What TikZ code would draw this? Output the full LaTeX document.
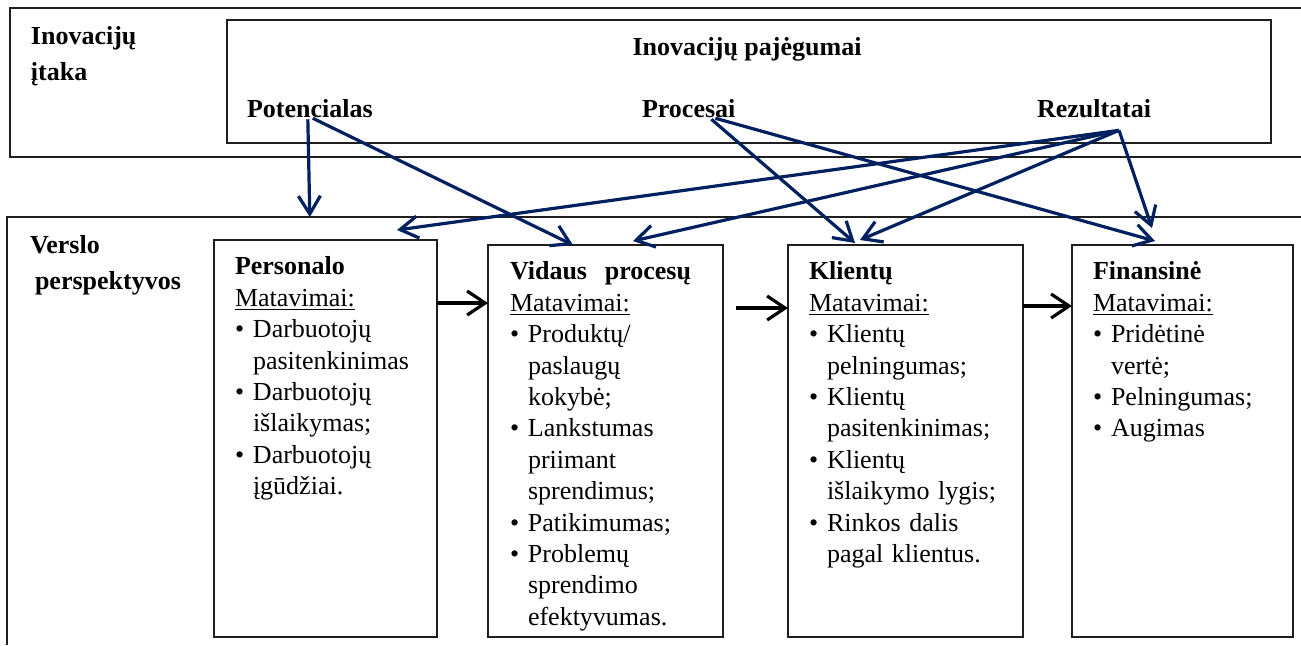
\documentclass[tikz,border=0pt]{standalone}
\usepackage{fontspec}
\setmainfont{Liberation Serif}
\usetikzlibrary{arrows.meta,calc}
\setlength{\parindent}{0pt}
\definecolor{KpiFrame}{gray}{0.12}
\definecolor{KpiNavy}{RGB}{0,32,96}
\newcommand{\kpiitem}[1]{\par\hangindent=9pt\hangafter=1\noindent\makebox[9pt][l]{\textbullet}#1}
\tikzset{
    kpi/diagram/.style={
        x=0.5pt, y=-0.5pt,
        font=\fontsize{13}{15.7}\selectfont,
        line join=miter,
        every node/.style={inner sep=0pt, outer sep=0pt}
    },
    kpi/frame/.style={draw=KpiFrame, line width=0.85pt},
    kpi/panel/.style={draw=KpiFrame, line width=0.65pt},
    kpi/box/.style={draw=KpiFrame, line width=0.65pt, anchor=north west},
    kpi/text/.style={align=left, anchor=north west, text width=#1},
    kpi/label/.style={font=\fontsize{13}{18}\selectfont\bfseries, align=left, anchor=north west},
    kpi/heading/.style={font=\fontsize{13}{15.7}\selectfont\bfseries, anchor=base west},
    kpi/flow/.style={
        draw=black, line width=1.6pt,
        -{Straight Barb[length=9pt, width=12pt]}
    },
    kpi/link/.style={
        draw=KpiNavy, line width=1.6pt,
        -{Straight Barb[length=9pt, width=11pt]}
    }
}

\begin{document}
\begin{tikzpicture}[kpi/diagram]
    \useasboundingbox (0,0) rectangle (1301,645);

    % Upper band: innovation influence.
    \draw[kpi/frame] (1301,8) -- (10,8) -- (10,157) -- (1301,157);
    \node[kpi/label] (itaka) at (31,19) {\strut Inovacijų\\įtaka};
    \draw[kpi/panel] (227,20) rectangle (1271,143);
    \node[kpi/heading, anchor=base] (pajeg) at (747,55) {Inovacijų pajėgumai};
    \node[kpi/heading] (pot) at (247,117) {Potencialas};
    \node[kpi/heading] (proc) at (642,117) {Procesai};
    \node[kpi/heading] (rez) at (1037,117) {Rezultatai};

    % Lower band: business perspectives.
    \draw[kpi/frame] (1301,217) -- (7,217) -- (7,645);
    \coordinate (verslo-top) at (7,217);
    \node[kpi/label] (verslo) at (30,228) {\strut Verslo\\\hspace{2.5pt}perspektyvos};

    \node[kpi/box, minimum width=111.5pt, minimum height=198.5pt] (pers) at (214,240) {};
    \node[kpi/box, minimum width=117.5pt, minimum height=196pt] (vid) at (488,245) {};
    \node[kpi/box, minimum width=117.5pt, minimum height=196pt] (kli) at (788,245) {};
    \node[kpi/box, minimum width=110.5pt, minimum height=196pt] (fin) at (1072,245) {};

    \node[kpi/text=100pt] (pers-txt) at (235,253) {\strut\textbf{Personalo}\par
        \underline{Matavimai:}
        \kpiitem{Darbuotojų\newline pasitenkinimas}
        \kpiitem{Darbuotojų\newline išlaikymas;}
        \kpiitem{Darbuotojų\newline įgūdžiai.}\par};
    \node[kpi/text=106pt] (vid-txt) at (510,258) {\strut\textbf{Vidaus\hspace{0.35em} procesų}\par
        \underline{Matavimai:}
        \kpiitem{Produktų/\newline paslaugų\newline kokybė;}
        \kpiitem{Lankstumas\newline priimant\newline sprendimus;}
        \kpiitem{Patikimumas;}
        \kpiitem{Problemų\newline sprendimo\newline efektyvumas.}\par};
    \node[kpi/text=105pt] (kli-txt) at (809,258) {\strut\textbf{Klientų}\par
        \underline{Matavimai:}
        \kpiitem{Klientų\newline pelningumas;}
        \kpiitem{Klientų\newline pasitenkinimas;}
        \kpiitem{Klientų\newline išlaikymo lygis;}
        \kpiitem{Rinkos dalis\newline pagal klientus.}\par};
    \node[kpi/text=98pt] (fin-txt) at (1093,258) {\strut\textbf{Finansinė}\par
        \underline{Matavimai:}
        \kpiitem{Pridėtinė\newline vertė;}
        \kpiitem{Pelningumas;}
        \kpiitem{Augimas}\par};

    % Chain of perspectives.
    \draw[kpi/flow] ($(pers.north east)+(0,63)$) -- ($(vid.north west)+(0,58)$);
    \draw[kpi/flow] ($(vid.north east)+(13,63)$) -- ($(kli.north west)+(0,63)$);
    \draw[kpi/flow] ($(kli.north east)+(0,61)$) -- ($(fin.north west)+(0,61)$);

    % Influence of the innovation capabilities.
    \draw[kpi/link] ($(pot.south)+(-2,2)$) -- (pot.south |- verslo-top);
    \draw[kpi/link] ($(pot.south)+(3,1)$) -- ($(vid.north west)+(85,0)$);
    \draw[kpi/link] ($(proc.south east)+(-24,2)$) -- ($(kli.north west)+(67,-2)$);
    \draw[kpi/link] ($(proc.south east)+(-20,1)$) -- ($(fin.north west)+(83,-4)$);
    \coordinate (rez-out) at ($(rez.south)+(25,13)$);
    \draw[kpi/link] (rez-out) -- ($(pers.north east)+(-40,-10)$);
    \draw[kpi/link] (rez-out) -- ($(vid.north west)+(145,-4)$);
    \draw[kpi/link] (rez-out) -- ($(kli.north west)+(72,-5)$);
    \draw[kpi/link] (rez-out) -- ($(fin.north west)+(80,-17)$);
\end{tikzpicture}
\end{document}
